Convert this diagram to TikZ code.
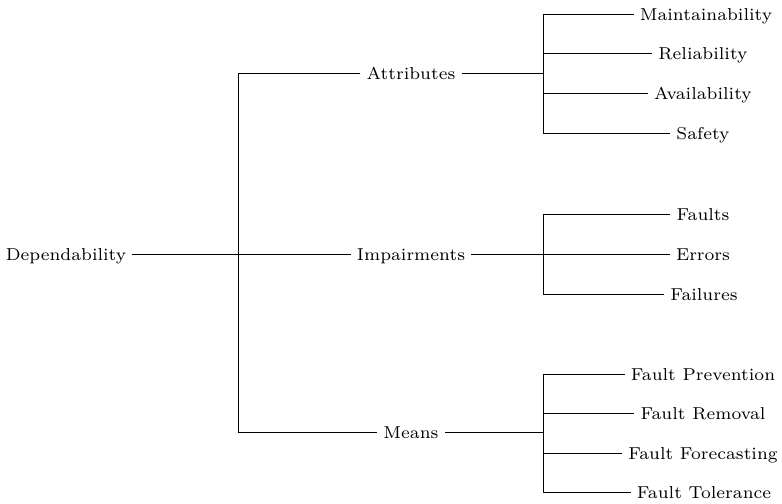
\documentclass[tikz,border=0pt]{standalone}
\begin{document}
\begin{tikzpicture}[x=0.4pt,y=-0.4pt,
  lbl/.style={inner sep=2.3pt,text height=1.5ex,text depth=0.25ex,
    font=\fontsize{6.9}{8}\selectfont},
  wire/.style={line width=0.38pt}]
\useasboundingbox (0,0) rectangle (782,504);

% root and first level
\node[lbl] (dep) at (66,254) {Dependability};
\node[lbl] (attr) at (411,73) {Attributes};
\node[lbl] (imp) at (411,254) {Impairments};
\node[lbl] (means) at (411,432) {Means};

% leaves
\node[lbl] (maint) at (706,14) {Maintainability};
\node[lbl] (rel) at (703,53) {Reliability};
\node[lbl] (avail) at (703,93) {Availability};
\node[lbl] (safe) at (703,133) {Safety};

\node[lbl] (faults) at (703,214) {Faults};
\node[lbl] (errors) at (703,254) {Errors};
\node[lbl] (fails) at (704,294) {Failures};

\node[lbl] (fprev) at (703,374) {Fault Prevention};
\node[lbl] (frem) at (703,413) {Fault Removal};
\node[lbl] (ffore) at (703,453) {Fault Forecasting};
\node[lbl] (ftol) at (704,492) {Fault Tolerance};

% fork points
\coordinate (f0) at (238,254);
\coordinate (fa) at (543,73);
\coordinate (fi) at (543,254);
\coordinate (fm) at (543,432);

% connectors
\draw[wire] (dep.east) -- (f0);
\foreach \c in {attr,imp,means} \draw[wire] (f0) |- (\c.west);

\draw[wire] (attr.east) -- (fa);
\foreach \c in {maint,rel,avail,safe} \draw[wire] (fa) |- (\c.west);

\draw[wire] (imp.east) -- (fi);
\foreach \c in {faults,errors,fails} \draw[wire] (fi) |- (\c.west);

\draw[wire] (means.east) -- (fm);
\foreach \c in {fprev,frem,ffore,ftol} \draw[wire] (fm) |- (\c.west);
\end{tikzpicture}
\end{document}
